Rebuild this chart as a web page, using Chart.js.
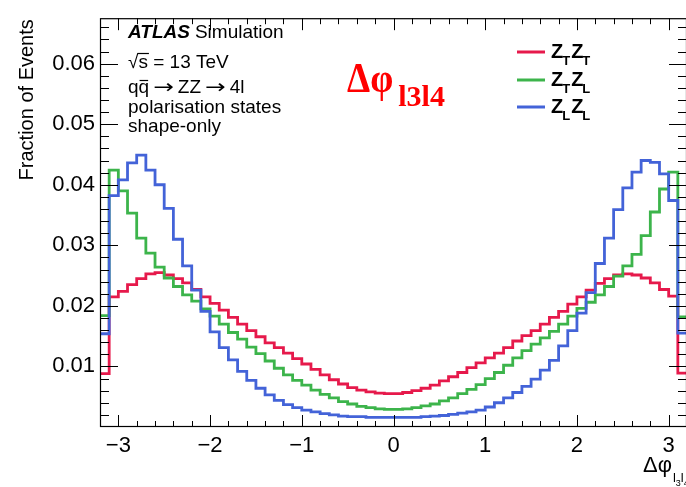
<!DOCTYPE html>
<html><head><meta charset="utf-8">
<script src="https://cdn.jsdelivr.net/npm/chart.js@4/dist/chart.umd.min.js"></script>
<style>html,body{margin:0;padding:0;background:#fff;overflow:hidden;width:686px;height:487px}</style>
</head><body>
<canvas id="c" width="690" height="487"></canvas>
<script>
// Histogram: 64 bins of width 0.1 from -3.2 to 3.2
const xMin = -3.2, xMax = 3.2, nBins = 64;
const xTickValues = [-3, -2, -1, 0, 1, 2, 3];
const yTickValues = [0.01, 0.02, 0.03, 0.04, 0.05, 0.06];
const seriesNames = ['Z_T Z_T', 'Z_T Z_L', 'Z_L Z_L'];

const seriesTT = [0.0088, 0.0215, 0.0224, 0.0235, 0.0245, 0.0253, 0.0255, 0.0251, 0.0245, 0.0238,
  0.0227, 0.0215, 0.0204, 0.0193, 0.0181, 0.0170, 0.0159, 0.0149, 0.0139, 0.0131,
  0.0122, 0.0113, 0.0104, 0.0095, 0.0086, 0.0078, 0.0071, 0.0065, 0.0061, 0.0058,
  0.0056, 0.0055, 0.0055, 0.0057, 0.0060, 0.0064, 0.0069, 0.0076, 0.0083, 0.0090,
  0.0098, 0.0106, 0.0114, 0.0122, 0.0131, 0.0142, 0.0151, 0.0159, 0.0170, 0.0181,
  0.0191, 0.0203, 0.0215, 0.0226, 0.0237, 0.0245, 0.0251, 0.0253, 0.0251, 0.0246,
  0.0238, 0.0227, 0.0216, 0.0089];
const seriesTL = [0.0184, 0.0424, 0.0390, 0.0353, 0.0312, 0.0287, 0.0264, 0.0246, 0.0232, 0.0218,
  0.0208, 0.0195, 0.0183, 0.0170, 0.0156, 0.0145, 0.0132, 0.0121, 0.0109, 0.0097,
  0.0086, 0.0077, 0.0069, 0.0061, 0.0054, 0.0048, 0.0042, 0.0038, 0.0034, 0.0032,
  0.0030, 0.0029, 0.0029, 0.0030, 0.0032, 0.0035, 0.0038, 0.0043, 0.0048, 0.0055,
  0.0062, 0.0070, 0.0080, 0.0090, 0.0102, 0.0114, 0.0126, 0.0137, 0.0147, 0.0158,
  0.0170, 0.0183, 0.0196, 0.0206, 0.0218, 0.0232, 0.0249, 0.0266, 0.0285, 0.0316,
  0.0355, 0.0393, 0.0421, 0.0182];
const seriesLL = [0.0154, 0.0382, 0.0408, 0.0436, 0.0449, 0.0424, 0.0400, 0.0361, 0.0310, 0.0266,
  0.0226, 0.0191, 0.0157, 0.0131, 0.0111, 0.0092, 0.0077, 0.0064, 0.0053, 0.0044,
  0.0037, 0.0032, 0.0028, 0.0025, 0.0022, 0.0020, 0.0018, 0.0017, 0.0017, 0.0016,
  0.0016, 0.0016, 0.0016, 0.0016, 0.0016, 0.0017, 0.0018, 0.0019, 0.0021, 0.0023,
  0.0025, 0.0028, 0.0033, 0.0040, 0.0048, 0.0057, 0.0067, 0.0079, 0.0094, 0.0110,
  0.0134, 0.0159, 0.0188, 0.0222, 0.0270, 0.0312, 0.0359, 0.0395, 0.0421, 0.0440,
  0.0437, 0.0418, 0.0374, 0.0155];

const colTT = '#e6194b', colTL = '#3cb44b', colLL = '#4363d8';

function stepPoints(vals) {
  const w = (xMax - xMin) / nBins;
  const pts = vals.map((v, i) => ({ x: xMin + i * w, y: v }));
  pts.push({ x: xMax, y: vals[vals.length - 1] });
  return pts;
}

const SANS = '"Liberation Sans", Arial, Helvetica, sans-serif';
const SERIF = '"Liberation Serif", "Times New Roman", serif';

function txt(ctx, s, x, y, font, color, sx) {
  ctx.save();
  ctx.font = font; ctx.fillStyle = color || '#000';
  ctx.textAlign = 'left'; ctx.textBaseline = 'alphabetic';
  ctx.translate(x, y); ctx.scale(sx || 1, 1);
  ctx.fillText(s, 0, 0);
  const w = ctx.measureText(s).width * (sx || 1);
  ctx.restore();
  return w;
}

const decor = {
  id: 'decor',
  afterDraw(chart) {
    const { ctx, chartArea: a, scales: { x, y } } = chart;
    ctx.save();
    ctx.strokeStyle = '#000'; ctx.lineWidth = 1.2;
    ctx.strokeRect(a.left + 0.5, a.top + 0.5, a.right - a.left - 1, a.bottom - a.top - 1);
    ctx.lineWidth = 1;
    ctx.beginPath();
    for (let k = -15; k <= 15; k++) {
      const v = k * 0.2;
      const major = Math.abs(v - Math.round(v)) < 1e-6;
      const L = major ? 12 : 6;
      const px = Math.round(x.getPixelForValue(v)) + 0.5;
      ctx.moveTo(px, a.bottom); ctx.lineTo(px, a.bottom - L);
      ctx.moveTo(px, a.top); ctx.lineTo(px, a.top + L);
    }
    for (let k = 1; k <= 33; k++) {
      const v = k * 0.002;
      const L = (k % 5 === 0) ? 18 : 9;
      const py = Math.round(y.getPixelForValue(v)) + 0.5;
      ctx.moveTo(a.left, py); ctx.lineTo(a.left + L, py);
      ctx.moveTo(a.right, py); ctx.lineTo(a.right - L, py);
    }
    ctx.stroke();

    // Y title
    ctx.save();
    ctx.translate(33, a.top + 1);
    ctx.rotate(-Math.PI / 2);
    ctx.font = '20px ' + SANS; ctx.fillStyle = '#000';
    ctx.textAlign = 'right'; ctx.textBaseline = 'alphabetic';
    ctx.fillText('Fraction of Events', 0, 0);
    ctx.restore();

    // ATLAS block
    const f19 = '19px ' + SANS;
    let w = txt(ctx, 'ATLAS', 128, 38, 'italic bold 19px ' + SANS, '#000');
    txt(ctx, 'Simulation', 128 + w + 5, 38, f19, '#000');
    // sqrt(s)
    const wr = txt(ctx, '\u221A', 128, 68, f19, '#000');
    const ws = txt(ctx, 's', 128 + wr, 68, f19, '#000');
    txt(ctx, ' = 13 TeV', 128 + wr + ws, 68, f19, '#000');
    ctx.beginPath(); ctx.lineWidth = 1.2;
    ctx.moveTo(128 + wr - 1, 53.5); ctx.lineTo(128 + wr + ws + 1, 53.5); ctx.stroke();
    // q qbar -> ZZ -> 4l
    let qx = 128;
    const wq = txt(ctx, 'q', qx, 93, f19, '#000');
    const wq2 = txt(ctx, 'q', qx + wq, 93, f19, '#000');
    ctx.beginPath(); ctx.moveTo(qx + wq + 1, 80.5); ctx.lineTo(qx + wq + wq2 - 1, 80.5); ctx.stroke();
    qx += wq + wq2 + 4;
    qx += txt(ctx, '\u2192', qx, 93, '19px "DejaVu Sans", sans-serif', '#000', 1.3) + 4;
    qx += txt(ctx, 'ZZ', qx, 93, f19, '#000') + 4;
    qx += txt(ctx, '\u2192', qx, 93, '19px "DejaVu Sans", sans-serif', '#000', 1.3) + 4;
    txt(ctx, '4l', qx, 93, f19, '#000');
    txt(ctx, 'polarisation states', 128, 113, f19, '#000');
    txt(ctx, 'shape-only', 128, 132, f19, '#000');

    // Red label
    let rx = 347;
    rx += txt(ctx, '\u0394\u03C6', rx, 92, 'bold 42px ' + SERIF, '#ff0000', 0.88);
    txt(ctx, 'l3l4', rx + 5, 106, 'bold 30px ' + SERIF, '#ff0000', 1.0);

    // Legend
    const legend = [[colTT, 'Z', 'T', 'Z', 'T', 52], [colTL, 'Z', 'T', 'Z', 'L', 80], [colLL, 'Z', 'L', 'Z', 'L', 107]];
    legend.forEach(([c, a1, b1, a2, b2, ly]) => {
      ctx.beginPath(); ctx.strokeStyle = c; ctx.lineWidth = 3;
      ctx.moveTo(517, ly); ctx.lineTo(545, ly); ctx.stroke();
      let lx = 551;
      lx += txt(ctx, a1, lx, ly + 6, 'bold 20px ' + SANS, '#000');
      lx += txt(ctx, b1, lx - 1, ly + 13, 'bold 13px ' + SANS, '#000');
      lx += txt(ctx, a2, lx, ly + 6, 'bold 20px ' + SANS, '#000');
      txt(ctx, b2, lx - 1, ly + 13, 'bold 13px ' + SANS, '#000');
    });

    // X title
    let tx = 643;
    tx += txt(ctx, '\u0394\u03C6', tx, 472, '22px ' + SANS, '#000');
    const wl = txt(ctx, 'l', tx + 1, 482, '13px ' + SANS, '#000');
    const w3 = txt(ctx, '3', tx + 1 + wl, 486, '9px ' + SANS, '#000');
    txt(ctx, 'l', tx + 1 + wl + w3, 482, '13px ' + SANS, '#000');
    txt(ctx, '4', tx + 1 + 2 * wl + w3, 486, '9px ' + SANS, '#000');
    ctx.restore();
  }
};

const ds = (label, vals, color, order) => ({
  label, data: stepPoints(vals), borderColor: color, backgroundColor: color,
  borderWidth: 2.8, stepped: true, pointRadius: 0, fill: false, order
});

new Chart(document.getElementById('c'), {
  type: 'line',
  data: { datasets: [
    ds(seriesNames[0], seriesTT, colTT, 2),
    ds(seriesNames[1], seriesTL, colTL, 1),
    ds(seriesNames[2], seriesLL, colLL, 0)
  ] },
  options: {
    responsive: false, animation: false, devicePixelRatio: 1,
    layout: { padding: { top: 8, right: 3, left: 0, bottom: 0 } },
    plugins: { legend: { display: false }, tooltip: { enabled: false } },
    scales: {
      x: {
        type: 'linear', min: xMin, max: xMax,
        afterFit(s) { s.height = 60; },
        afterBuildTicks(s) { s.ticks = xTickValues.map(v => ({ value: v })); },
        ticks: { autoSkip: false, maxRotation: 0, padding: 6, color: '#000',
          font: { family: SANS, size: 22 },
          callback: v => v < 0 ? '\u2212' + Math.abs(v) : String(Math.abs(v)) },
        grid: { display: false, drawTicks: false }, border: { display: false }
      },
      y: {
        type: 'linear', min: 0, max: 0.0675,
        afterFit(s) { s.width = 100; },
        afterBuildTicks(s) { s.ticks = yTickValues.map(v => ({ value: v })); },
        ticks: { padding: 5, color: '#000', font: { family: SANS, size: 22 },
          callback: v => v.toFixed(2) },
        grid: { display: false, drawTicks: false }, border: { display: false }
      }
    }
  },
  plugins: [decor]
});
</script>
</body></html>
